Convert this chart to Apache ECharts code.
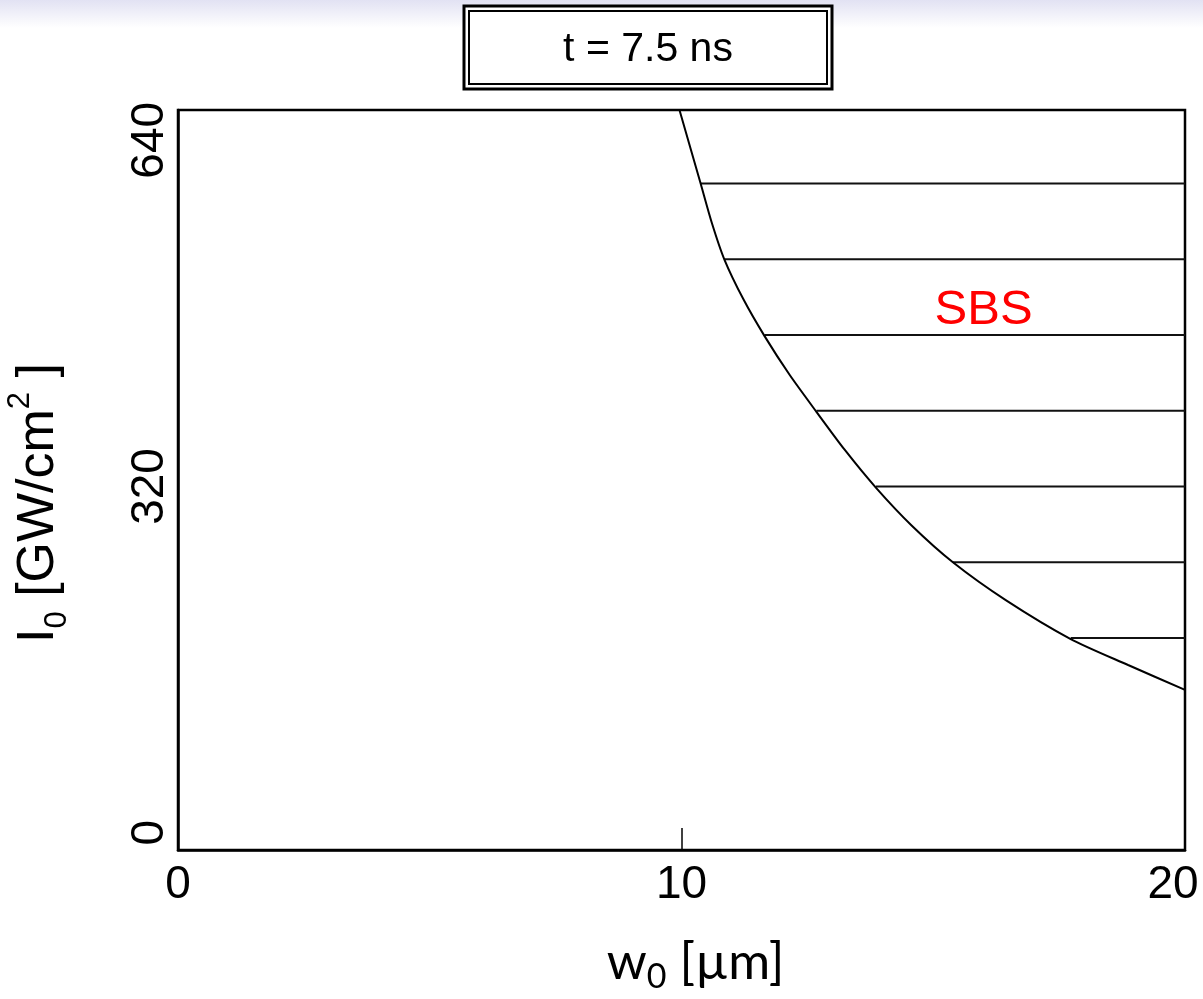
<!DOCTYPE html>
<html>
<head>
<meta charset="utf-8">
<script src="https://cdn.jsdelivr.net/npm/echarts@6/dist/echarts.min.js"></script>
<style>
  html, body { margin: 0; padding: 0; background: #fff; }
  #chart { width: 1203px; height: 999px; }
</style>
</head>
<body>
<div id="chart"></div>
<script>
// threshold curve (w0 in um, I0 in GW/cm2)
const curveW = [9.96, 10.38, 10.60, 10.85, 11.23, 11.65, 12.15, 12.68, 13.24, 13.86, 14.57, 15.39, 16.44, 17.73, 18.87, 20.0];
const curveI = [668, 600, 564, 530, 493, 459, 423, 389, 354, 319, 284, 250, 215, 179, 155, 132];

// hatching of the SBS region: each line runs from the curve to w0 = 20
const hatchI = [600, 530, 460, 390, 320, 250, 180];
const hatchStartW = [10.38, 10.85, 11.65, 12.68, 13.86, 15.39, 17.73];
const hatchEndW = 20;

const xTicks = [0, 10, 20];
const yTicks = [0, 320, 640];
const regionLabel = { text: 'SBS', w: 16.0, i: 483 };
const titleText = 't = 7.5 ns';

const chart = echarts.init(document.getElementById('chart'));

const series = [];
series.push({
  type: 'line',
  data: curveW.map((w, k) => [w, curveI[k]]),
  smooth: 0.25,
  showSymbol: false,
  lineStyle: { color: '#000', width: 2 },
  z: 3
});
hatchI.forEach((v, k) => {
  series.push({
    type: 'line',
    data: [[hatchStartW[k], v], [hatchEndW, v]],
    showSymbol: false,
    lineStyle: { color: '#111', width: 1.9 },
    z: 2
  });
});
series.push({
  type: 'scatter',
  data: [[regionLabel.w, regionLabel.i]],
  symbolSize: 0,
  itemStyle: { opacity: 1 },
  label: {
    show: true,
    position: 'inside',
    formatter: regionLabel.text,
    color: '#ff0000',
    fontSize: 49,
    fontFamily: 'Liberation Sans'
  }
});

const option = {
  animation: false,
  backgroundColor: '#fff',
  grid: {
    left: 178,
    right: 18,
    top: 110,
    bottom: 149,
    outerBoundsMode: 'none',
    containLabel: false,
    show: true,
    borderColor: '#000',
    borderWidth: 2.5
  },
  graphic: [
    {
      type: 'rect',
      shape: { x: 0, y: 0, width: 1203, height: 28 },
      style: {
        fill: new echarts.graphic.LinearGradient(0, 0, 0, 1, [
          { offset: 0, color: '#e2e2f3' },
          { offset: 1, color: '#ffffff' }
        ])
      },
      z: -10
    },
    {
      type: 'rect',
      shape: { x: 464, y: 6, width: 368, height: 83 },
      style: { fill: '#fff', stroke: '#000', lineWidth: 3 }
    },
    {
      type: 'rect',
      shape: { x: 469, y: 11, width: 358, height: 73 },
      style: { fill: 'none', stroke: '#000', lineWidth: 2 }
    },
    {
      type: 'text',
      x: 648,
      y: 50,
      style: {
        text: titleText,
        fontSize: 41,
        fontFamily: 'Liberation Sans',
        fill: '#000',
        align: 'center',
        verticalAlign: 'middle'
      }
    }
  ],
  xAxis: {
    type: 'value',
    min: 0,
    max: 20,
    interval: 10,
    name: '{t|w}{sub|0}{t| [µm]}',
    nameLocation: 'middle',
    nameGap: 82,
    nameTextStyle: {
      padding: [0, 0, 0, 28],
      rich: {
        t: { fontSize: 51, fontFamily: 'Lato', color: '#000', lineHeight: 62 },
        sub: { fontSize: 34, fontFamily: 'Lato', color: '#000', lineHeight: 36, verticalAlign: 'bottom' }
      }
    },
    axisLine: { onZero: false, lineStyle: { color: '#000', width: 2.5 } },
    axisTick: { show: true, inside: true, length: 22, lineStyle: { color: '#000', width: 1.5 }, customValues: [10] },
    axisLabel: {
      customValues: xTicks,
      color: '#000',
      fontSize: 46,
      fontFamily: 'Liberation Sans',
      margin: 12,
      formatter: function (v) {
        return v === 20 ? '{r|' + v + '}' : '{n|' + v + '}';
      },
      rich: {
        n: { fontSize: 46, fontFamily: 'Liberation Sans', color: '#000' },
        r: { fontSize: 46, fontFamily: 'Liberation Sans', color: '#000', padding: [0, 24, 0, 0] }
      }
    },
    splitLine: { show: false }
  },
  yAxis: {
    type: 'value',
    min: -16,
    max: 668,
    name: '{t|I}{sub|0}{t| [GW/cm}{sup|2}{t| ]}',
    nameLocation: 'middle',
    nameRotate: 90,
    nameGap: 105,
    nameTextStyle: {
      padding: [0, 46, 0, 0],
      rich: {
        t: { fontSize: 52, fontFamily: 'Liberation Sans', color: '#000', lineHeight: 68 },
        sub: { fontSize: 31, fontFamily: 'Liberation Sans', color: '#000', lineHeight: 33, verticalAlign: 'bottom' },
        sup: { fontSize: 31, fontFamily: 'Liberation Sans', color: '#000', lineHeight: 48, verticalAlign: 'top' }
      }
    },
    axisLine: { show: true, onZero: false, lineStyle: { color: '#000', width: 2.5 } },
    axisTick: { show: false },
    axisLabel: {
      customValues: yTicks,
      rotate: 90,
      color: '#000',
      fontSize: 46,
      fontFamily: 'Liberation Sans',
      margin: 5
    },
    splitLine: { show: false }
  },
  series: series
};

chart.setOption(option);
</script>
</body>
</html>
